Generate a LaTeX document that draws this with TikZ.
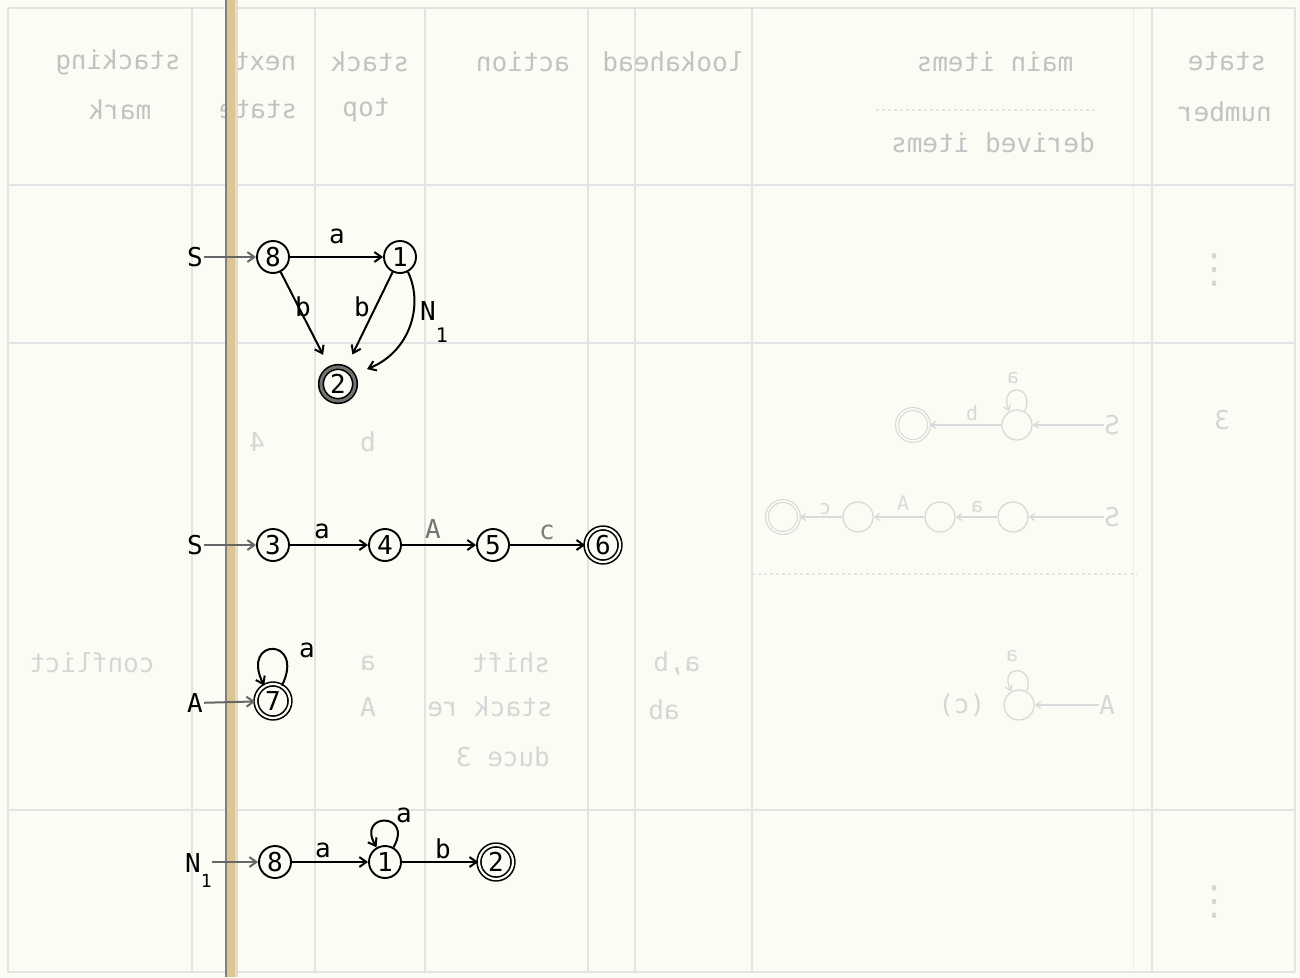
\documentclass[tikz,border=0pt]{standalone}
\usepackage{fontspec}
\setmainfont{DejaVu Sans Mono}
\newfontfamily\dvsans{DejaVu Sans}
\usetikzlibrary{arrows.meta,calc}
\definecolor{paper}{RGB}{252,252,245}
\definecolor{bind}{RGB}{220,198,150}
\tikzset{
 fg/.style={font=\fontsize{26}{30}\selectfont,inner sep=1pt},
 lbl/.style={font=\fontsize{26}{30}\selectfont,inner sep=0pt},
 st/.style={circle,draw,line width=1.9pt,minimum size=32pt,inner sep=0pt,font=\fontsize{26}{30}\selectfont},
 acc/.style={circle,draw,line width=1.6pt,double=paper,double distance=2.2pt,minimum size=34pt,inner sep=0pt,font=\fontsize{26}{30}\selectfont},
 accd/.style={acc,double=black!55,double distance=3pt},
 arr/.style={line width=2pt,-{Straight Barb[length=7pt,width=10pt]}},
 initarr/.style={arr,draw=black!60},
 bgl/.style={draw=black!11,line width=1.3pt},
 bgt/.style={text=black!24,font=\fontsize{26}{30}\selectfont,inner sep=0pt},
 bgr/.style={text=black!16,font=\fontsize{26}{30}\selectfont,inner sep=0pt},
 bgc/.style={circle,draw=black!15,line width=1.3pt,minimum size=30pt,inner sep=0pt},
 bgd/.style={circle,draw=black!15,line width=1.2pt,double=paper,double distance=1.6pt,minimum size=32pt,inner sep=0pt},
 bga/.style={draw=black!15,line width=1.3pt,-{Straight Barb[length=5pt,width=7pt]}},
 bgs/.style={text=black!15,font=\fontsize{20}{24}\selectfont,inner sep=0pt},
}
\begin{document}
\begin{tikzpicture}[x=1pt,y=-1pt]
% page
\fill[paper] (0,0) rectangle (1300,977);
\useasboundingbox (0,0) rectangle (1300,977);

% ---------- show-through table (mirrored, faint) ----------
\foreach \xx in {8,192,315,425,588,635,752,1152,1295}
  \draw[bgl] (\xx,8) -- (\xx,972);
\draw[draw=black!7,line width=1pt] (1133,8) -- (1133,972);
\foreach \yy in {8,185,343,810,972}
  \draw[bgl] (8,\yy) -- (1295,\yy);
\draw[bgl,dashed] (876,110) -- (1096,110);
\draw[bgl,dashed] (752,574) -- (1137,574);

\node[bgt] (h1) at (118,62) {\reflectbox{stacking}};
\node[bgt] (h2) at (120,110) {\reflectbox{mark}};
\node[bgt] (h3) at (265,62) {\reflectbox{next}};
\node[bgt] (h4) at (258,110) {\reflectbox{state}};
\node[bgt] (h5) at (370,62) {\reflectbox{stack}};
\node[bgt] (h6) at (366,110) {\reflectbox{top}};
\node[bgt] (h7) at (523,62) {\reflectbox{action}};
\node[bgt] (h8) at (673,62) {\reflectbox{lookahead}};
\node[bgt] (h9) at (995,62) {\reflectbox{main items}};
\node[bgt] (h10) at (993,143) {\reflectbox{derived items}};
\node[bgt] (h11) at (1227,62) {\reflectbox{state}};
\node[bgt] (h12) at (1225,112) {\reflectbox{number}};

\node[bgr] (r1) at (257,442) {\reflectbox{4}};
\node[bgr] (r2) at (368,442) {\reflectbox{b}};
\node[bgr] (r3) at (1222,420) {\reflectbox{3}};
\node[bgr] (r4) at (92,663) {\reflectbox{conflict}};
\node[bgr] (r5) at (368,663) {\reflectbox{a}};
\node[bgr] (r6) at (511,663) {\reflectbox{shift}};
\node[bgr] (r7) at (677,663) {\reflectbox{a,b}};
\node[bgr] (r8) at (368,707) {\reflectbox{A}};
\node[bgr] (r9) at (490,707) {\reflectbox{stack re}};
\node[bgr] (r10) at (664,710) {\reflectbox{ab}};
\node[bgr] (r11) at (503,757) {\reflectbox{duce 3}};
\node[bgr,font=\dvsans\fontsize{40}{44}\selectfont] (r12) at (1214,270) {⋮};
\node[bgr,font=\dvsans\fontsize{40}{44}\selectfont] (r13) at (1214,902) {⋮};

% mirrored main items drawings
\node[bgr] (ms1) at (1112,425) {\reflectbox{S}};
\node[bgc] (mc1) at (1017,425) {};
\node[bgd] (md1) at (913,425) {};
\draw[bga] (ms1) -- (mc1);
\draw[bga] (mc1) -- (md1);
\draw[bga] (mc1.60) .. controls (1036,383) and (998,383) .. (mc1.120);
\node[bgs] (ml1) at (972,413) {\reflectbox{b}};
\node[bgs] (ml2) at (1013,378) {\reflectbox{a}};

\node[bgr] (ms2) at (1112,517) {\reflectbox{S}};
\node[bgc] (mc2) at (1013,517) {};
\node[bgc] (mc3) at (940,517) {};
\node[bgc] (mc4) at (858,517) {};
\node[bgd] (md2) at (783,517) {};
\draw[bga] (ms2) -- (mc2);
\draw[bga] (mc2) -- (mc3);
\draw[bga] (mc3) -- (mc4);
\draw[bga] (mc4) -- (md2);
\node[bgs] (ml3) at (977,507) {\reflectbox{a}};
\node[bgs] (ml4) at (903,503) {\reflectbox{A}};
\node[bgs] (ml5) at (825,509) {\reflectbox{c}};

\node[bgr] (ms3) at (1107,705) {\reflectbox{A}};
\node[bgc] (mc5) at (1019,705) {};
\draw[bga] (ms3) -- (mc5);
\draw[bga] (mc5.60) .. controls (1036,664) and (998,664) .. (mc5.120);
\node[bgs] (ml6) at (1012,656) {\reflectbox{a}};
\node[bgr] (ml7) at (962,705) {\reflectbox{(c)}};

% ---------- binding strip ----------
\fill[bind] (226,0) rectangle (235,977);
\fill[bind!60!paper] (235,0) rectangle (238,977);
\draw[black!50,line width=1.4pt] (226,0) -- (226,977);

% ---------- diagram 1 ----------
\node[fg] (s1) at (195,257) {S};
\node[st] (a8) at (273,257) {8};
\node[st] (a1) at (400,257) {1};
\node[accd] (a2) at (338,384) {2};
\draw[initarr] (s1) -- (a8);
\draw[arr] (a8) -- (a1);
\draw[arr,shorten >=15pt] (a8) -- (a2);
\draw[arr,shorten >=15pt] (a1) -- (a2);
\draw[arr,shorten >=15pt] (a1.-62) .. controls (424,305) and (410,352) .. (a2.32);
\node[lbl] (la1) at (337,236) {a};
\node[lbl] (la2) at (303,307) {b};
\node[lbl] (la3) at (362,307) {b};
\node[lbl,anchor=base west] (la4) at (420,320) {N\raisebox{-22pt}{\fontsize{20}{20}\selectfont 1}};

% ---------- diagram 2 ----------
\node[fg] (s2) at (195,545) {S};
\node[st] (b3) at (273,545) {3};
\node[st] (b4) at (385,545) {4};
\node[st] (b5) at (493,545) {5};
\node[acc] (b6) at (603,545) {6};
\draw[initarr] (s2) -- (b3);
\draw[arr] (b3) -- (b4);
\draw[arr] (b4) -- (b5);
\draw[arr] (b5) -- (b6);
\node[lbl] (lb1) at (322,531) {a};
\node[lbl,text=black!55] (lb2) at (433,529) {A};
\node[lbl,text=black!50] (lb3) at (547,532) {c};

% ---------- diagram 3 ----------
\node[fg] (s3) at (195,703) {A};
\node[acc] (c7) at (273,701) {7};
\draw[initarr] (s3) -- (c7);
\draw[arr] (c7.60) .. controls (306,637) and (240,637) .. (c7.120);
\node[lbl] (lc1) at (307,650) {a};

% ---------- diagram 4 ----------
\node[lbl,anchor=base west] (s4) at (185,872) {N\raisebox{-15pt}{\fontsize{18}{18}\selectfont 1}};
\node[st] (d8) at (275,862) {8};
\node[st] (d1) at (385,862) {1};
\node[acc] (d2) at (496,862) {2};
\draw[initarr] (s4.east |- d8) -- (d8);
\draw[arr] (d8) -- (d1);
\draw[arr] (d1) -- (d2);
\draw[arr] (d1.60) .. controls (414,812) and (356,812) .. (d1.120);
\node[lbl] (ld1) at (323,850) {a};
\node[lbl] (ld2) at (443,849) {b};
\node[lbl] (ld3) at (404,815) {a};
\end{tikzpicture}
\end{document}
